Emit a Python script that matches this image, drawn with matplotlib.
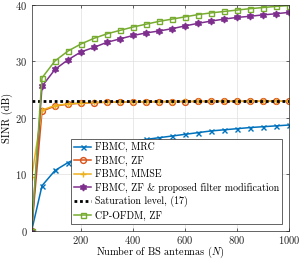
import matplotlib

matplotlib.use("Agg")

import matplotlib.pyplot as plt
import numpy as np

# number of BS antennas
n_antennas = [10, 50, 100, 150, 200, 250, 300, 350, 400, 450, 500,
              550, 600, 650, 700, 750, 800, 850, 900, 950, 1000]

sinr_mrc = [0.0, 8.0, 10.7, 12.1, 13.2, 14.0, 14.7, 15.3, 15.8, 16.2, 16.5,
            16.8, 17.1, 17.4, 17.7, 17.9, 18.1, 18.3, 18.45, 18.6, 18.75]
sinr_zf = [0.0, 21.2, 22.1, 22.45, 22.6, 22.7, 22.78, 22.82, 22.85, 22.87, 22.89,
           22.9, 22.91, 22.92, 22.93, 22.94, 22.94, 22.95, 22.95, 22.96, 22.96]
sinr_mmse = [9.5, 21.4, 22.2, 22.5, 22.65, 22.74, 22.8, 22.84, 22.87, 22.89, 22.9,
             22.91, 22.92, 22.93, 22.94, 22.95, 22.95, 22.96, 22.96, 22.97, 22.97]
sinr_zf_mod = [0.0, 25.6, 28.6, 30.3, 31.7, 32.5, 33.4, 34.0, 34.6, 35.05, 35.4,
               35.8, 36.3, 36.75, 37.15, 37.5, 37.8, 38.0, 38.25, 38.45, 38.7]
saturation = [23.0] * len(n_antennas)
sinr_ofdm = [0.0, 27.1, 30.1, 31.85, 33.1, 34.1, 34.9, 35.5, 36.1, 36.6, 37.1,
             37.5, 37.9, 38.3, 38.6, 38.85, 39.1, 39.35, 39.55, 39.75, 39.9]

x_ticks = [200, 400, 600, 800, 1000]
y_ticks = [0, 10, 20, 30, 40]

plt.rcParams["font.family"] = ["cmr10", "DejaVu Serif"]
plt.rcParams["mathtext.fontset"] = "cm"
plt.rcParams["axes.formatter.use_mathtext"] = True

fig, ax = plt.subplots(figsize=(3.01, 2.63), dpi=100)
fig.subplots_adjust(left=0.105, right=0.960, bottom=0.122, top=0.981)

lw = 1.1
ms = 3.6
ax.plot(n_antennas, sinr_mrc, color="#0072BD", marker="x", markersize=ms,
        markeredgewidth=1.0, linewidth=lw, label="FBMC, MRC")
ax.plot(n_antennas, sinr_zf, color="#D95319", marker="o", markersize=ms + 0.6,
        markerfacecolor="none", markeredgewidth=1.0, linewidth=lw, label="FBMC, ZF")
ax.plot(n_antennas, sinr_mmse, color="#EDB120", marker="+", markersize=ms + 1.2,
        markeredgewidth=1.0, linewidth=lw, label="FBMC, MMSE")
ax.plot(n_antennas, sinr_zf_mod, color="#7E2F8E", marker=(6, 1, 0), markersize=ms + 1.4,
        linewidth=lw, label="FBMC, ZF & proposed filter modification")
ax.plot(n_antennas, saturation, color="black", linestyle=(0, (1, 1)), linewidth=2.0,
        label="Saturation level, (17)")
ax.plot(n_antennas, sinr_ofdm, color="#77AC30", marker="s", markersize=ms,
        markerfacecolor="none", markeredgewidth=1.0, linewidth=lw, label="CP-OFDM, ZF")

ax.set_xlim(10, 1000)
ax.set_ylim(0, 40)
ax.set_xticks(x_ticks)
ax.set_yticks(y_ticks)
ax.set_xlabel(r"Number of BS antennas ($N$)", fontsize=7.4, labelpad=-1.0)
ax.set_ylabel("SINR (dB)", fontsize=7.6, labelpad=1.5)
ax.tick_params(direction="in", length=2.5, width=0.5, labelsize=7.6, pad=3,
               top=True, right=True, colors="0.15")
ax.tick_params(axis="x", pad=2.5)
ax.grid(True, color="0.88", linewidth=0.5)
ax.set_axisbelow(True)
for spine in ax.spines.values():
    spine.set_linewidth(0.5)
    spine.set_color("0.15")

leg = ax.legend(loc="lower right", bbox_to_anchor=(0.973, 0.031), fontsize=7.2,
                frameon=True, fancybox=False, edgecolor="0.15", framealpha=1.0,
                borderpad=0.3, labelspacing=0.33, handlelength=1.7,
                handletextpad=0.35, borderaxespad=0.0)
leg.get_frame().set_linewidth(0.5)

fig.savefig("out.png", dpi=100)
plt.close(fig)
